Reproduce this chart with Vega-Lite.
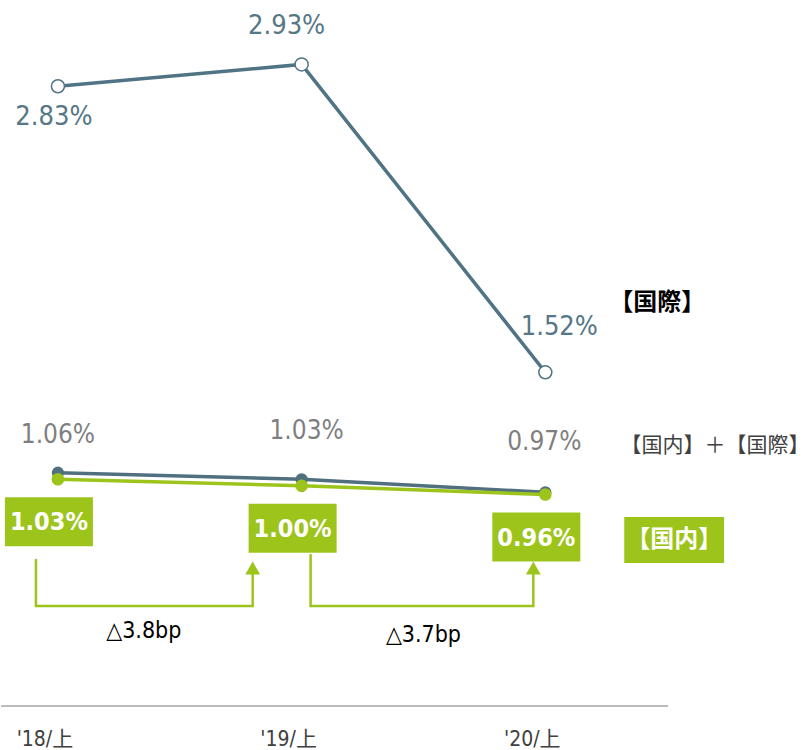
{
  "$schema": "https://vega.github.io/schema/vega-lite/v6.json",
  "width": 810,
  "height": 750,
  "autosize": {"type": "fit", "contains": "padding"},
  "padding": 0,
  "background": "white",
  "config": {
    "view": {"stroke": null},
    "axis": {"disable": true},
    "text": {"font": "DejaVu Sans Condensed, Noto Sans CJK JP, sans-serif"}
  },
  "datasets": {
    "rates": [
      {"period": "'18/上", "idx": 0, "intl": 2.83, "total": 1.06, "dom": 1.03},
      {"period": "'19/上", "idx": 1, "intl": 2.93, "total": 1.03, "dom": 1.00},
      {"period": "'20/上", "idx": 2, "intl": 1.52, "total": 0.97, "dom": 0.96}
    ],
    "one": [{}],
    "notes": [
      {"key": "intl", "label": "【国際】"},
      {"key": "both", "label": "【国内】＋【国際】"},
      {"key": "dom", "label": "【国内】"},
      {"key": "d1", "label": "△3.8bp"},
      {"key": "d2", "label": "△3.7bp"}
    ]
  },
  "layer": [
    {
      "data": {"name": "one"},
      "mark": {"type": "rule", "color": "#a6a6a6", "strokeWidth": 1.5},
      "encoding": {
        "x": {"datum": -0.2336, "type": "quantitative", "scale": {"domain": [-0.2336, 3.0861], "nice": false, "zero": false}, "axis": null},
        "x2": {"datum": 2.5041},
        "y": {"datum": -0.0085, "type": "quantitative", "scale": {"domain": [-0.21, 3.225], "nice": false, "zero": false}, "axis": null}
      }
    },
    {
      "data": {"name": "rates"},
      "mark": {"type": "text", "fontSize": 21, "color": "#404040", "dx": -13},
      "encoding": {
        "x": {"field": "idx", "type": "quantitative", "scale": {"domain": [-0.2336, 3.0861], "nice": false, "zero": false}},
        "y": {"datum": -0.1642, "type": "quantitative", "scale": {"domain": [-0.21, 3.225], "nice": false, "zero": false}},
        "text": {"field": "period"}
      }
    },
    {
      "data": {"name": "rates"},
      "mark": {"type": "line", "color": "#507484", "strokeWidth": 3.5},
      "encoding": {
        "x": {"field": "idx", "type": "quantitative", "scale": {"domain": [-0.2336, 3.0861], "nice": false, "zero": false}},
        "y": {"field": "intl", "type": "quantitative", "scale": {"domain": [-0.21, 3.225], "nice": false, "zero": false}}
      }
    },
    {
      "data": {"name": "rates"},
      "mark": {"type": "circle", "fill": "white", "stroke": "#507484", "strokeWidth": 1.5, "size": 170, "opacity": 1},
      "encoding": {
        "x": {"field": "idx", "type": "quantitative", "scale": {"domain": [-0.2336, 3.0861], "nice": false, "zero": false}},
        "y": {"field": "intl", "type": "quantitative", "scale": {"domain": [-0.21, 3.225], "nice": false, "zero": false}}
      }
    },
    {
      "data": {"name": "rates"},
      "mark": {"type": "line", "color": "#50707f", "strokeWidth": 3.5},
      "encoding": {
        "x": {"field": "idx", "type": "quantitative", "scale": {"domain": [-0.2336, 3.0861], "nice": false, "zero": false}},
        "y": {"field": "total", "type": "quantitative", "scale": {"domain": [-0.21, 3.225], "nice": false, "zero": false}}
      }
    },
    {
      "data": {"name": "rates"},
      "mark": {"type": "circle", "color": "#50707f", "size": 150, "opacity": 1},
      "encoding": {
        "x": {"field": "idx", "type": "quantitative", "scale": {"domain": [-0.2336, 3.0861], "nice": false, "zero": false}},
        "y": {"field": "total", "type": "quantitative", "scale": {"domain": [-0.21, 3.225], "nice": false, "zero": false}}
      }
    },
    {
      "data": {"name": "rates"},
      "mark": {"type": "line", "color": "#9dc41b", "strokeWidth": 3.5},
      "encoding": {
        "x": {"field": "idx", "type": "quantitative", "scale": {"domain": [-0.2336, 3.0861], "nice": false, "zero": false}},
        "y": {"field": "dom", "type": "quantitative", "scale": {"domain": [-0.21, 3.225], "nice": false, "zero": false}}
      }
    },
    {
      "data": {"name": "rates"},
      "mark": {"type": "circle", "color": "#9dc41b", "size": 160, "opacity": 1},
      "encoding": {
        "x": {"field": "idx", "type": "quantitative", "scale": {"domain": [-0.2336, 3.0861], "nice": false, "zero": false}},
        "y": {"field": "dom", "type": "quantitative", "scale": {"domain": [-0.21, 3.225], "nice": false, "zero": false}}
      }
    },
    {
      "data": {"name": "rates"},
      "transform": [{"filter": "datum.idx == 0"}, {"calculate": "format(datum.intl, '.2f') + '%'", "as": "lab"}],
      "mark": {"type": "text", "fontSize": 27, "color": "#557786", "dx": -4, "dy": 31},
      "encoding": {
        "x": {"field": "idx", "type": "quantitative", "scale": {"domain": [-0.2336, 3.0861], "nice": false, "zero": false}},
        "y": {"field": "intl", "type": "quantitative", "scale": {"domain": [-0.21, 3.225], "nice": false, "zero": false}},
        "text": {"field": "lab"}
      }
    },
    {
      "data": {"name": "rates"},
      "transform": [{"filter": "datum.idx == 1"}, {"calculate": "format(datum.intl, '.2f') + '%'", "as": "lab"}],
      "mark": {"type": "text", "fontSize": 27, "color": "#557786", "dx": -15, "dy": -38},
      "encoding": {
        "x": {"field": "idx", "type": "quantitative", "scale": {"domain": [-0.2336, 3.0861], "nice": false, "zero": false}},
        "y": {"field": "intl", "type": "quantitative", "scale": {"domain": [-0.21, 3.225], "nice": false, "zero": false}},
        "text": {"field": "lab"}
      }
    },
    {
      "data": {"name": "rates"},
      "transform": [{"filter": "datum.idx == 2"}, {"calculate": "format(datum.intl, '.2f') + '%'", "as": "lab"}],
      "mark": {"type": "text", "fontSize": 27, "color": "#557786", "dx": 14, "dy": -45},
      "encoding": {
        "x": {"field": "idx", "type": "quantitative", "scale": {"domain": [-0.2336, 3.0861], "nice": false, "zero": false}},
        "y": {"field": "intl", "type": "quantitative", "scale": {"domain": [-0.21, 3.225], "nice": false, "zero": false}},
        "text": {"field": "lab"}
      }
    },
    {
      "data": {"name": "rates"},
      "transform": [{"filter": "datum.idx == 0"}, {"calculate": "format(datum.total, '.2f') + '%'", "as": "lab"}],
      "mark": {"type": "text", "fontSize": 26, "color": "#7f7f7f", "dx": 0, "dy": -38},
      "encoding": {
        "x": {"field": "idx", "type": "quantitative", "scale": {"domain": [-0.2336, 3.0861], "nice": false, "zero": false}},
        "y": {"field": "total", "type": "quantitative", "scale": {"domain": [-0.21, 3.225], "nice": false, "zero": false}},
        "text": {"field": "lab"}
      }
    },
    {
      "data": {"name": "rates"},
      "transform": [{"filter": "datum.idx == 1"}, {"calculate": "format(datum.total, '.2f') + '%'", "as": "lab"}],
      "mark": {"type": "text", "fontSize": 26, "color": "#7f7f7f", "dx": 5, "dy": -48},
      "encoding": {
        "x": {"field": "idx", "type": "quantitative", "scale": {"domain": [-0.2336, 3.0861], "nice": false, "zero": false}},
        "y": {"field": "total", "type": "quantitative", "scale": {"domain": [-0.21, 3.225], "nice": false, "zero": false}},
        "text": {"field": "lab"}
      }
    },
    {
      "data": {"name": "rates"},
      "transform": [{"filter": "datum.idx == 2"}, {"calculate": "format(datum.total, '.2f') + '%'", "as": "lab"}],
      "mark": {"type": "text", "fontSize": 26, "color": "#7f7f7f", "dx": -1, "dy": -50},
      "encoding": {
        "x": {"field": "idx", "type": "quantitative", "scale": {"domain": [-0.2336, 3.0861], "nice": false, "zero": false}},
        "y": {"field": "total", "type": "quantitative", "scale": {"domain": [-0.21, 3.225], "nice": false, "zero": false}},
        "text": {"field": "lab"}
      }
    },
    {
      "data": {"name": "rates"},
      "mark": {"type": "rect", "color": "#9dc41b", "xOffset": -53, "x2Offset": 35, "yOffset": 18, "y2Offset": 67},
      "encoding": {
        "x": {"field": "idx", "type": "quantitative", "scale": {"domain": [-0.2336, 3.0861], "nice": false, "zero": false}},
        "x2": {"field": "idx"},
        "y": {"field": "dom", "type": "quantitative", "scale": {"domain": [-0.21, 3.225], "nice": false, "zero": false}},
        "y2": {"field": "dom"}
      }
    },
    {
      "data": {"name": "rates"},
      "transform": [{"calculate": "format(datum.dom, '.2f') + '%'", "as": "lab"}],
      "mark": {"type": "text", "fontSize": 25, "fontWeight": "bold", "color": "white", "dx": -9, "dy": 43},
      "encoding": {
        "x": {"field": "idx", "type": "quantitative", "scale": {"domain": [-0.2336, 3.0861], "nice": false, "zero": false}},
        "y": {"field": "dom", "type": "quantitative", "scale": {"domain": [-0.21, 3.225], "nice": false, "zero": false}},
        "text": {"field": "lab"}
      }
    },
    {
      "data": {"name": "notes"},
      "transform": [{"filter": "datum.key == 'intl'"}],
      "mark": {"type": "text", "fontSize": 24, "fontWeight": "bold", "color": "#000000", "font": "Noto Sans CJK JP"},
      "encoding": {
        "x": {"datum": 2.459, "type": "quantitative", "scale": {"domain": [-0.2336, 3.0861], "nice": false, "zero": false}},
        "y": {"datum": 1.8373, "type": "quantitative", "scale": {"domain": [-0.21, 3.225], "nice": false, "zero": false}},
        "text": {"field": "label"}
      }
    },
    {
      "data": {"name": "notes"},
      "transform": [{"filter": "datum.key == 'both'"}],
      "mark": {"type": "text", "fontSize": 21, "color": "#404040", "font": "Noto Sans CJK JP"},
      "encoding": {
        "x": {"datum": 2.6967, "type": "quantitative", "scale": {"domain": [-0.2336, 3.0861], "nice": false, "zero": false}},
        "y": {"datum": 1.1823, "type": "quantitative", "scale": {"domain": [-0.21, 3.225], "nice": false, "zero": false}},
        "text": {"field": "label"}
      }
    },
    {
      "data": {"name": "one"},
      "mark": {"type": "rect", "color": "#9dc41b"},
      "encoding": {
        "x": {"datum": 2.3238, "type": "quantitative", "scale": {"domain": [-0.2336, 3.0861], "nice": false, "zero": false}},
        "x2": {"datum": 2.7336},
        "y": {"datum": 0.8571, "type": "quantitative", "scale": {"domain": [-0.21, 3.225], "nice": false, "zero": false}},
        "y2": {"datum": 0.6465}
      }
    },
    {
      "data": {"name": "notes"},
      "transform": [{"filter": "datum.key == 'dom'"}],
      "mark": {"type": "text", "fontSize": 24, "fontWeight": "bold", "color": "white", "font": "Noto Sans CJK JP"},
      "encoding": {
        "x": {"datum": 2.5287, "type": "quantitative", "scale": {"domain": [-0.2336, 3.0861], "nice": false, "zero": false}},
        "y": {"datum": 0.7518, "type": "quantitative", "scale": {"domain": [-0.21, 3.225], "nice": false, "zero": false}},
        "text": {"field": "label"}
      }
    },
    {
      "data": {"name": "one"},
      "mark": {"type": "rule", "color": "#9dc41b", "strokeWidth": 2.5, "strokeCap": "round"},
      "encoding": {
        "x": {"datum": -0.0902, "type": "quantitative", "scale": {"domain": [-0.2336, 3.0861], "nice": false, "zero": false}},
        "y": {"datum": 0.6602, "type": "quantitative", "scale": {"domain": [-0.21, 3.225], "nice": false, "zero": false}},
        "y2": {"datum": 0.4495}
      }
    },
    {
      "data": {"name": "one"},
      "mark": {"type": "rule", "color": "#9dc41b", "strokeWidth": 2.5, "strokeCap": "round"},
      "encoding": {
        "x": {"datum": -0.0902, "type": "quantitative", "scale": {"domain": [-0.2336, 3.0861], "nice": false, "zero": false}},
        "x2": {"datum": 0.7992},
        "y": {"datum": 0.4495, "type": "quantitative", "scale": {"domain": [-0.21, 3.225], "nice": false, "zero": false}}
      }
    },
    {
      "data": {"name": "one"},
      "mark": {"type": "rule", "color": "#9dc41b", "strokeWidth": 2.5, "strokeCap": "round"},
      "encoding": {
        "x": {"datum": 0.7992, "type": "quantitative", "scale": {"domain": [-0.2336, 3.0861], "nice": false, "zero": false}},
        "y": {"datum": 0.4495, "type": "quantitative", "scale": {"domain": [-0.21, 3.225], "nice": false, "zero": false}},
        "y2": {"datum": 0.6052}
      }
    },
    {
      "data": {"name": "one"},
      "mark": {"type": "point", "shape": "triangle-up", "filled": true, "color": "#9dc41b", "size": 220, "opacity": 1},
      "encoding": {
        "x": {"datum": 0.7992, "type": "quantitative", "scale": {"domain": [-0.2336, 3.0861], "nice": false, "zero": false}},
        "y": {"datum": 0.6236, "type": "quantitative", "scale": {"domain": [-0.21, 3.225], "nice": false, "zero": false}}
      }
    },
    {
      "data": {"name": "one"},
      "mark": {"type": "rule", "color": "#9dc41b", "strokeWidth": 2.5, "strokeCap": "round"},
      "encoding": {
        "x": {"datum": 1.0369, "type": "quantitative", "scale": {"domain": [-0.2336, 3.0861], "nice": false, "zero": false}},
        "y": {"datum": 0.6831, "type": "quantitative", "scale": {"domain": [-0.21, 3.225], "nice": false, "zero": false}},
        "y2": {"datum": 0.4495}
      }
    },
    {
      "data": {"name": "one"},
      "mark": {"type": "rule", "color": "#9dc41b", "strokeWidth": 2.5, "strokeCap": "round"},
      "encoding": {
        "x": {"datum": 1.0369, "type": "quantitative", "scale": {"domain": [-0.2336, 3.0861], "nice": false, "zero": false}},
        "x2": {"datum": 1.9508},
        "y": {"datum": 0.4495, "type": "quantitative", "scale": {"domain": [-0.21, 3.225], "nice": false, "zero": false}}
      }
    },
    {
      "data": {"name": "one"},
      "mark": {"type": "rule", "color": "#9dc41b", "strokeWidth": 2.5, "strokeCap": "round"},
      "encoding": {
        "x": {"datum": 1.9508, "type": "quantitative", "scale": {"domain": [-0.2336, 3.0861], "nice": false, "zero": false}},
        "y": {"datum": 0.4495, "type": "quantitative", "scale": {"domain": [-0.21, 3.225], "nice": false, "zero": false}},
        "y2": {"datum": 0.6052}
      }
    },
    {
      "data": {"name": "one"},
      "mark": {"type": "point", "shape": "triangle-up", "filled": true, "color": "#9dc41b", "size": 220, "opacity": 1},
      "encoding": {
        "x": {"datum": 1.9508, "type": "quantitative", "scale": {"domain": [-0.2336, 3.0861], "nice": false, "zero": false}},
        "y": {"datum": 0.6236, "type": "quantitative", "scale": {"domain": [-0.21, 3.225], "nice": false, "zero": false}}
      }
    },
    {
      "data": {"name": "notes"},
      "transform": [{"filter": "datum.key == 'd1'"}],
      "mark": {"type": "text", "fontSize": 23, "color": "#000000"},
      "encoding": {
        "x": {"datum": 0.3525, "type": "quantitative", "scale": {"domain": [-0.2336, 3.0861], "nice": false, "zero": false}},
        "y": {"datum": 0.335, "type": "quantitative", "scale": {"domain": [-0.21, 3.225], "nice": false, "zero": false}},
        "text": {"field": "label"}
      }
    },
    {
      "data": {"name": "notes"},
      "transform": [{"filter": "datum.key == 'd2'"}],
      "mark": {"type": "text", "fontSize": 23, "color": "#000000"},
      "encoding": {
        "x": {"datum": 1.5, "type": "quantitative", "scale": {"domain": [-0.2336, 3.0861], "nice": false, "zero": false}},
        "y": {"datum": 0.3167, "type": "quantitative", "scale": {"domain": [-0.21, 3.225], "nice": false, "zero": false}},
        "text": {"field": "label"}
      }
    }
  ]
}
